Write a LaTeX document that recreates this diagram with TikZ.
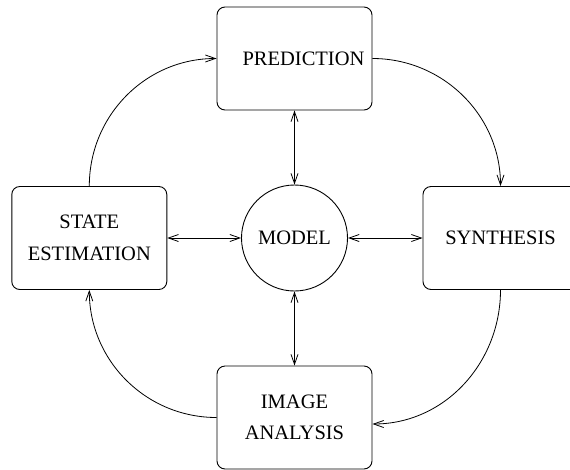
\documentclass[tikz,border=0pt]{standalone}
\usepackage{fontspec}
\setmainfont{Liberation Serif}
\usetikzlibrary{arrows.meta}
\tikzset{
  block/.style={draw, line width=0.9pt, rounded corners=8pt, minimum width=155pt,
    minimum height=103pt, inner sep=0pt, align=center},
  hub/.style={draw, line width=0.9pt, circle, minimum size=106pt, inner sep=0pt},
  link/.style={line width=0.8pt, >={Straight Barb[length=10pt,width=7pt]}}
}
\begin{document}
\begin{tikzpicture}[x=1pt, y=-1pt, font=\fontsize{20.5}{31.5}\selectfont]
        \useasboundingbox (0,0) rectangle (570,469);
        \clip (0,0) rectangle (570,469);

        % boxes round the model
        \node[block, label={[xshift=9pt]center:PREDICTION}] (Pred) at (294.5,58.5) {};
        \node[block] (State) at (89.3,238) {STATE\\ESTIMATION};
        \node[hub] (Model) at (294.5,238) {MODEL};
        \node[block] (Synth) at (500.5,238) {SYNTHESIS};
        \node[block] (Image) at (294.5,417.5) {IMAGE\\ANALYSIS};

        \draw [link, <->] (Model.north) -- (Pred.south);
        \draw [link, <->] (Model.south) -- (Image.north);
        \draw [link, <->] (Model.west) -- (State.east);
        \draw [link, <->] (Model.east) -- (Synth.west);

        % outer cycle
        \draw [link, ->] (State.north) to[out=90, in=180] (Pred.west);
        \draw [link, ->] (Pred.east) to[out=0, in=90] (Synth.north);
        \draw [link, ->] (Synth.south) to[out=-90, in=0] ([yshift=-6.5pt]Image.east);
        \draw [link, ->] (Image.west) to[out=180, in=-90] (State.south);
\end{tikzpicture}
\end{document}
